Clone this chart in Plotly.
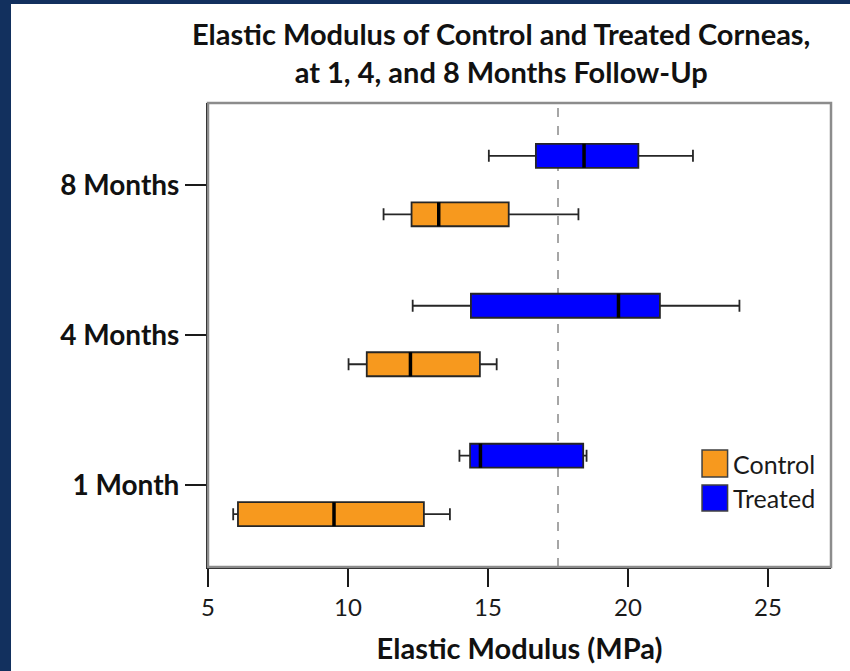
import plotly.graph_objects as go

# ---- data ----
categories = ["1 Month", "4 Months", "8 Months"]
series_names = ["Control", "Treated"]

control_low = [5.90, 10.02, 11.27]
control_q1 = [6.07, 10.67, 12.27]
control_median = [9.50, 12.23, 13.24]
control_q3 = [12.71, 14.71, 15.74]
control_high = [13.64, 15.31, 18.23]

treated_low = [13.98, 12.31, 15.03]
treated_q1 = [14.36, 14.39, 16.71]
treated_median = [14.73, 19.66, 18.43]
treated_q3 = [18.40, 21.14, 20.37]
treated_high = [18.52, 23.98, 22.32]

reference_value = 17.5
x_ticks = [5, 10, 15, 20, 25]
title_lines = ["Elastic Modulus of Control and Treated Corneas,",
               "at 1, 4, and 8 Months Follow-Up"]

# ---- styling ----
colors = {"Control": "#F7991E", "Treated": "#0000FF"}
offsets = {"Control": -0.193, "Treated": 0.197}
box_w = 0.16
font_family = "Lato, Carlito, Calibri, sans-serif"

cat_pos = [i + 1 for i in range(len(categories))]

series = {
    "Control": (control_low, control_q1, control_median, control_q3, control_high),
    "Treated": (treated_low, treated_q1, treated_median, treated_q3, treated_high),
}

fig = go.Figure()

for name in series_names:
    lo, q1, med, q3, hi = series[name]
    ys = [p + offsets[name] for p in cat_pos]
    for i in range(len(categories)):
        fig.add_trace(go.Box(
            orientation="h",
            y=[ys[i]],
            q1=[q1[i]], median=[med[i]], q3=[q3[i]],
            lowerfence=[lo[i]], upperfence=[hi[i]],
            width=box_w,
            whiskerwidth=0.5,
            fillcolor=colors[name],
            line=dict(color="#262626", width=1.8),
            showlegend=False,
            hoverinfo="skip",
            name=name,
        ))
    # thick median lines
    mx, my = [], []
    for i in range(len(categories)):
        mx += [med[i], med[i], None]
        my += [ys[i] - box_w / 2, ys[i] + box_w / 2, None]
    fig.add_trace(go.Scatter(x=mx, y=my, mode="lines",
                             line=dict(color="black", width=3.5),
                             showlegend=False, hoverinfo="skip"))

shapes = [
    # white slide area over dark border
    dict(type="rect", xref="paper", yref="paper", x0=-0.3162, x1=1.05,
         y0=-0.3, y1=1.2134, fillcolor="white", line=dict(width=0), layer="below"),
    # gray frame
    dict(type="rect", xref="paper", yref="paper", x0=0, x1=1, y0=0, y1=1,
         line=dict(color="#8c8c8c", width=2.5), layer="above"),
    # reference dashed line
    dict(type="line", xref="x", yref="paper", x0=reference_value, x1=reference_value,
         y0=0, y1=1, line=dict(color="#a6a6a6", width=2, dash="dash"), layer="below"),
]

annotations = []
# title (two lines)
annotations.append(dict(xref="paper", yref="paper", x=0.470, y=(567 - 53) / 464,
                        text="<b>" + "<br>".join(title_lines) + "</b>",
                        showarrow=False, xanchor="center", yanchor="middle",
                        font=dict(family=font_family, size=29, color="#111111")))

# legend drawn manually (large square swatches)
legend_rows = [(0.252, 0.194, 0.223), (0.1767, 0.1207, 0.1487)]
for name, (y1, y0, yt) in zip(series_names, legend_rows):
    shapes.append(dict(type="rect", xref="paper", yref="paper", x0=0.793, x1=0.834,
                       y0=y0, y1=y1, fillcolor=colors[name],
                       line=dict(color="#404040", width=1.5), layer="above"))
    annotations.append(dict(xref="paper", yref="paper", x=0.840, y=yt, text=name,
                            showarrow=False, xanchor="left", yanchor="middle",
                            font=dict(family=font_family, size=25, color="#1a1a1a")))

fig.update_layout(
    width=850, height=671,
    margin=dict(l=208, r=19, t=103, b=104),
    paper_bgcolor="#12305e",
    plot_bgcolor="rgba(0,0,0,0)",
    shapes=shapes,
    annotations=annotations,
    showlegend=False,
)

fig.update_xaxes(
    range=[5, 27.25], tickvals=x_ticks, ticktext=[str(v) for v in x_ticks],
    showgrid=False, zeroline=False,
    showline=True, linecolor="#1a1a1a", linewidth=2,
    ticks="outside", ticklen=18, tickwidth=2, tickcolor="#1a1a1a",
    tickfont=dict(family=font_family, size=24, color="#1a1a1a"),
    title=dict(text="<b>Elastic Modulus (MPa)</b>", standoff=19,
               font=dict(family=font_family, size=29, color="#111111")),
)
fig.update_yaxes(
    range=[0.455, 3.549], tickvals=cat_pos, ticktext=["<b>" + c + "</b>" for c in categories],
    showgrid=False, zeroline=False,
    showline=True, linecolor="#1a1a1a", linewidth=2,
    ticks="outside", ticklen=21, tickwidth=1.5, tickcolor="#1a1a1a",
    tickfont=dict(family=font_family, size=28, color="#111111"),
)

fig.write_html(
    "out.html",
    config={"displayModeBar": False},
    post_script="document.body.style.margin='0';document.body.style.background='#12305e';",
)
